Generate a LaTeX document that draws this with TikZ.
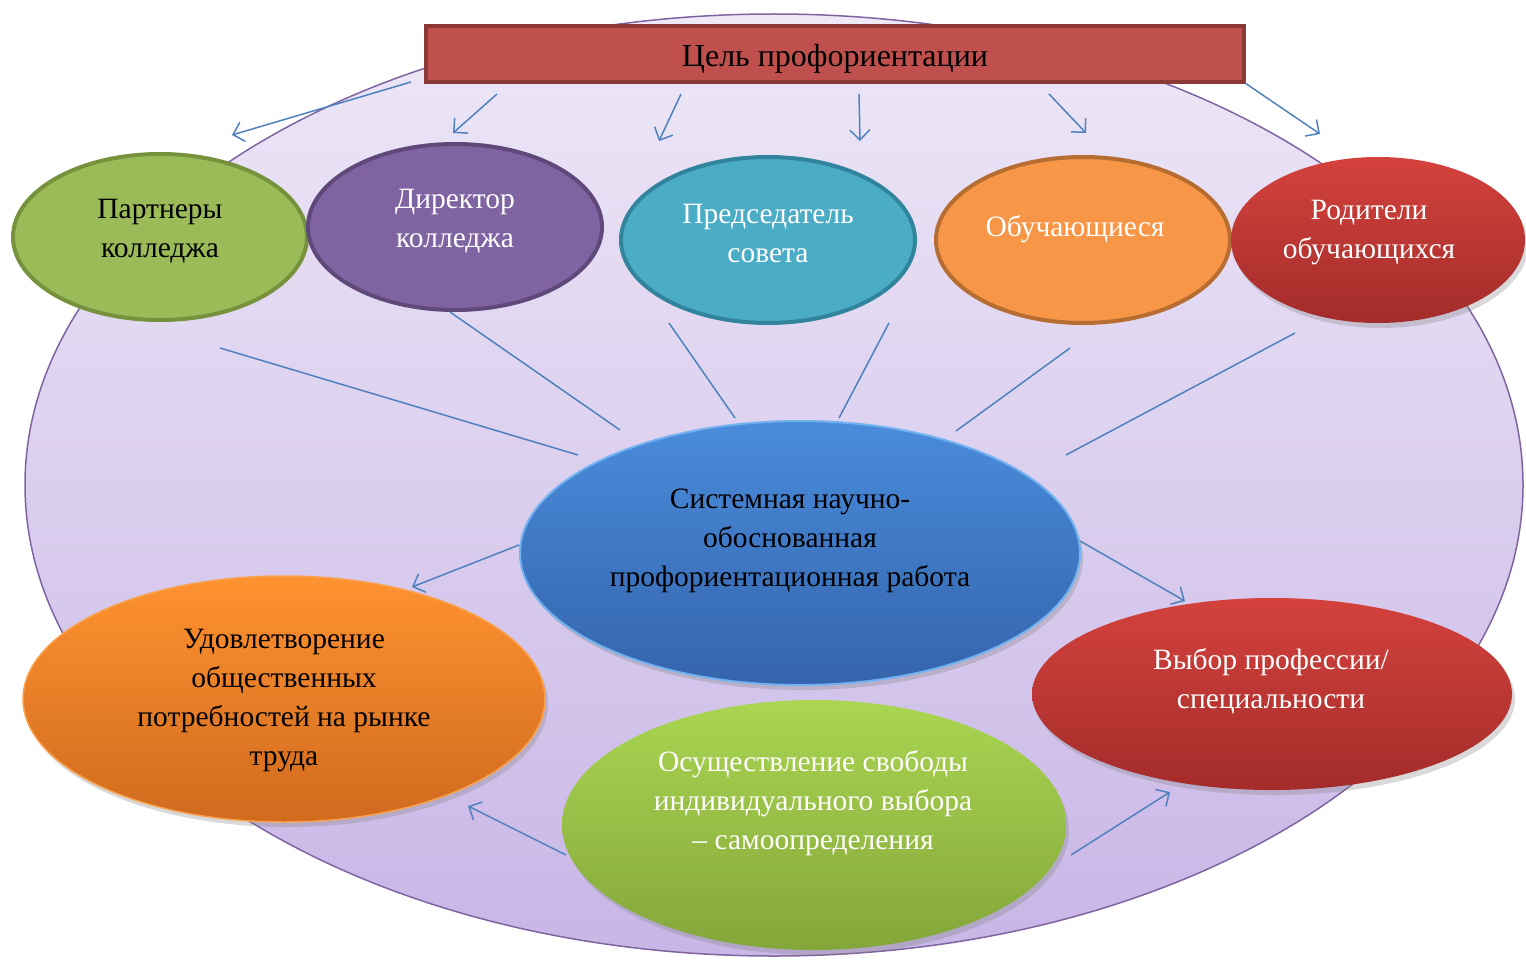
\documentclass[tikz,border=0pt]{standalone}
\usepackage{fontspec}
\setmainfont{Liberation Serif}
\usetikzlibrary{shapes.geometric,arrows.meta,shadows}
\definecolor{bgT}{HTML}{EEE8F7}
\definecolor{bgB}{HTML}{C8B6E6}
\definecolor{bgD}{HTML}{8064A2}
\definecolor{boxF}{HTML}{C0504D}
\definecolor{boxD}{HTML}{8C3836}
\definecolor{lineblue}{HTML}{4F81BD}
\definecolor{greenF}{HTML}{9BBB59}
\definecolor{greenD}{HTML}{76923C}
\definecolor{purpF}{HTML}{8064A2}
\definecolor{purpD}{HTML}{5F497A}
\definecolor{tealF}{HTML}{4BACC6}
\definecolor{tealD}{HTML}{31849B}
\definecolor{orF}{HTML}{F79646}
\definecolor{orD}{HTML}{B66D31}
\definecolor{redT}{HTML}{D4423D}
\definecolor{redB}{HTML}{A32C2A}
\definecolor{blueT}{HTML}{4A8CDB}
\definecolor{blueB}{HTML}{3464AC}
\definecolor{blueD}{HTML}{72B2F0}
\definecolor{or2T}{HTML}{FF9230}
\definecolor{or2B}{HTML}{D06A1E}
\definecolor{or2D}{HTML}{F9A24E}
\definecolor{gr2T}{HTML}{AAD652}
\definecolor{gr2B}{HTML}{84A63A}
\tikzset{
  conn/.style={draw=lineblue, line width=1.5pt},
  arr/.style={conn, -{Straight Barb[length=10pt,width=20pt]}},
  ell/.style={ellipse, inner sep=0pt},
  topell/.style={ell, minimum width=294pt, minimum height=166pt, line width=4pt},
  shad/.style={drop shadow={opacity=0.3, shadow xshift=3pt, shadow yshift=-5pt}},
  lbl/.style={align=center, inner sep=0pt, font=\fontsize{29.5}{39}\selectfont},
}
\begin{document}
\begin{tikzpicture}[x=1pt,y=-1pt]
\useasboundingbox (0,0) rectangle (1526,963);
% background ellipse
\path[draw=bgD, line width=1.5pt, top color=bgT, bottom color=bgB]
  (774,485) ellipse [x radius=749pt, y radius=471pt];
% title box
\node[draw=boxD, fill=boxF, line width=3.5pt, minimum width=818pt, minimum height=56pt,
      inner sep=0pt] (goal) at (835,54) {};
\node[font=\fontsize{32}{38}\selectfont, inner sep=0pt] (goalT) at (835,59) {Цель профориентации};
% top ellipses
\node[topell, fill=greenF, draw=greenD] (partE) at (160,237) {};
\node[topell, fill=purpF, draw=purpD] (dirE) at (455,227) {};
\node[topell, fill=tealF, draw=tealD] (predE) at (768,240) {};
\node[topell, fill=orF, draw=orD] (stuE) at (1083,240) {};
\node[ell, minimum width=294pt, minimum height=166pt, top color=redT, bottom color=redB, shad] (parE) at (1378,240) {};
\node[lbl, text=black] (partT) at (160,231) {Партнеры\\колледжа};
\node[lbl, text=white] (dirT) at (455,221) {Директор\\колледжа};
\node[lbl, text=white] (predT) at (768,233) {Председатель\\совета};
\node[lbl, text=white] (stuT) at (1075,229) {Обучающиеся};
\node[lbl, text=white] (parT) at (1369,233) {Родители\\обучающихся};
% lower ellipses
\node[ell, minimum width=560pt, minimum height=264pt, top color=blueT, bottom color=blueB, draw=blueD, line width=2pt, shad] (sysE) at (800,553) {};
\node[ell, minimum width=522pt, minimum height=246pt, top color=or2T, bottom color=or2B, draw=or2D, line width=1.5pt, shad] (udE) at (284,699) {};
\node[ell, minimum width=504pt, minimum height=250pt, top color=gr2T, bottom color=gr2B, shad] (osE) at (814,825) {};
\node[ell, minimum width=480pt, minimum height=192pt, top color=redT, bottom color=redB, shad] (vyE) at (1272,694) {};
\node[lbl, text=black] (sysT) at (790,541) {Системная научно-\\обоснованная\\профориентационная работа};
\node[lbl, text=black] (udT) at (284,701) {Удовлетворение\\общественных\\потребностей на рынке\\труда};
\node[lbl, text=white] (osT) at (813,803) {Осуществление свободы\\индивидуального выбора\\– самоопределения};
\node[lbl, text=white] (vyT) at (1271,681) {Выбор профессии/\\специальности};
% arrows from goal
\coordinate (g1) at (411,82);  \coordinate (t1) at (232,135);
\coordinate (g2) at (497,94);  \coordinate (t2) at (453,133);
\coordinate (g3) at (681,94);  \coordinate (t3) at (659,141);
\coordinate (g4) at (859,94);  \coordinate (t4) at (860,141);
\coordinate (g5) at (1049,94); \coordinate (t5) at (1086,133);
\coordinate (g6) at (1245,83); \coordinate (t6) at (1320,134);
\foreach \i in {1,...,6} \draw[arr] (g\i) -- (t\i);
% lines to the centre
\coordinate (l1a) at (220,348);  \coordinate (l1b) at (578,455);
\coordinate (l2a) at (450,312);  \coordinate (l2b) at (620,430);
\coordinate (l3a) at (669,323);  \coordinate (l3b) at (735,418);
\coordinate (l4a) at (889,323);  \coordinate (l4b) at (839,418);
\coordinate (l5a) at (1070,348); \coordinate (l5b) at (956,431);
\coordinate (l6a) at (1295,333); \coordinate (l6b) at (1066,455);
\foreach \i in {1,...,6} \draw[conn] (l\i a) -- (l\i b);
% arrows in the lower part
\coordinate (s1) at (519,545);  \coordinate (e1) at (412,587);
\coordinate (s2) at (1080,541); \coordinate (e2) at (1185,601);
\coordinate (s3) at (566,855);  \coordinate (e3) at (468,806);
\coordinate (s4) at (1071,855); \coordinate (e4) at (1170,792);
\foreach \i in {1,...,4} \draw[arr] (s\i) -- (e\i);
\end{tikzpicture}
\end{document}
